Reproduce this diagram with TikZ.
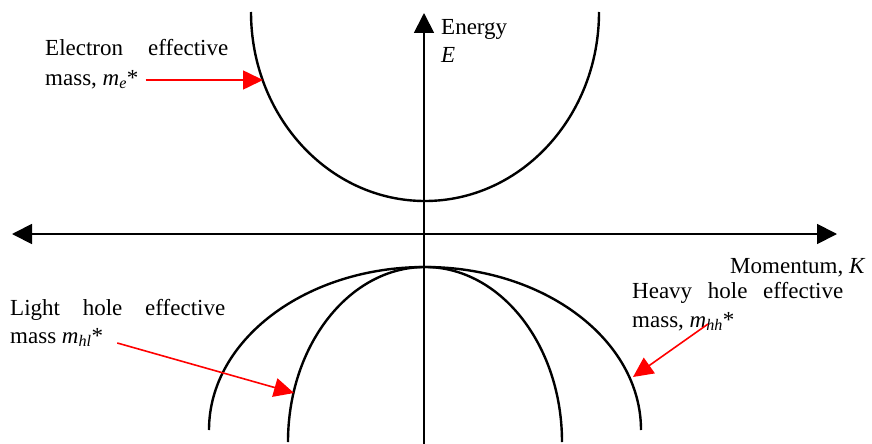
\documentclass[tikz,border=0pt]{standalone}
\usepackage{fontspec}
\setmainfont{Liberation Serif}
\usetikzlibrary{arrows.meta}

\begin{document}
\begin{tikzpicture}[x = 1pt, y = -1pt,
    every node/.style = {inner sep = 0pt, anchor = base west,
      font = \fontsize{23}{28}\selectfont},
    band/.style = {line width = 2.4pt},
    axis/.style = {line width = 1.8pt},
    pointer/.style = {red, line width = 1.6pt,
      -{Triangle[length = 20pt, width = 19pt]}}]
  \useasboundingbox (0,0) rectangle (872,444);
  % axes
  \draw [axis, -{Triangle[length = 20pt, width = 20pt]}] (424,444) -- (424,13);
  \draw [axis, {Triangle[length = 20pt, width = 20pt]}-{Triangle[length = 20pt, width = 20pt]}]
    (12,234) -- (837,234);
  % bands
  \draw [band] (599,12) arc (0:180:174 and 189);
  \draw [band] (209,430) arc (180:360:216 and 163);
  \draw [band] (288,442) arc (180:360:137 and 175);
  % labels
  \node (energy1) at (441,35) {Energy};
  \node (energy2) at (441,63) {\textit{E}};
  \node (momentum) at (730,273) {Momentum, \textit{K}};
  \node (elec1) at (45,56) {\makebox[183pt][s]{Electron effective}};
  \node (elec2) at (45,85) {mass, \textit{m}\textsubscript{\textit{e}}*};
  \node (light1) at (10,315) {\makebox[215pt][s]{Light hole effective}};
  \node (light2) at (10,343) {mass \textit{m}\textsubscript{\textit{hl}}*};
  \node (heavy1) at (632,298) {\makebox[211pt][s]{Heavy hole effective}};
  \node (heavy2) at (632,327) {mass, \textit{m}\textsubscript{\textit{hh}}*};
  % pointers
  \coordinate (eTip) at (263,80);
  \coordinate (lTip) at (294,393);
  \coordinate (hTip) at (633,377);
  \draw [pointer] ([xshift = 7pt]eTip -| elec2.east) -- (eTip);
  \draw [pointer] ([xshift = 14pt]light2.base east) -- (lTip);
  \draw [pointer] ([xshift = 76pt, yshift = 3pt]heavy2.base west) -- (hTip);
\end{tikzpicture}
\end{document}
